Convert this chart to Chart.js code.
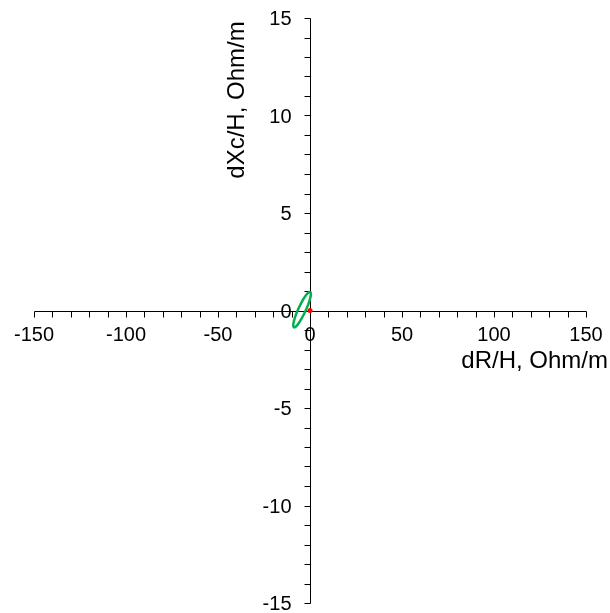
<!DOCTYPE html>
<html>
<head>
<meta charset="utf-8">
<title>dXc/H vs dR/H</title>
<script src="https://cdn.jsdelivr.net/npm/chart.js@4.4.1/dist/chart.umd.min.js"></script>
<style>
  html, body { margin: 0; padding: 0; background: #ffffff; }
  canvas { display: block; }
</style>
</head>
<body>
<canvas id="chart" width="610" height="613"></canvas>
<script>
// Hodograph loop: dR/H (x) against dXc/H (y), Ohm/m
const loopR = [0.0, 0.52, -0.25, -2.1, -4.55, -6.92, -8.6, -9.12, -8.36, -6.5, -4.06, -1.68, 0.0];
const loopX = [0.97, 0.85, 0.51, 0.05, -0.41, -0.75, -0.87, -0.75, -0.41, 0.05, 0.51, 0.85, 0.97];

// Reference point at the origin
const originR = [0];
const originX = [0];

// Axis ranges and tick steps
const xRange = [-150, 150];
const yRange = [-15, 15];
const xMinorStep = 10;
const xLabelStep = 50;
const yMinorStep = 1;
const yLabelStep = 5;

const xTitle = 'dR/H, Ohm/m';
const yTitle = 'dXc/H, Ohm/m';

const toPoints = (xs, ys) => xs.map((v, i) => ({ x: v, y: ys[i] }));

const FONT = '"Liberation Sans", Arial, Helvetica, sans-serif';
const TICK_LEN = 6;

const tickValues = (min, max, step) => {
  const out = [];
  for (let v = min; v <= max + 1e-9; v += step) out.push(Math.round(v * 1e6) / 1e6);
  return out;
};

// Axes crossing at the origin, ticks pointing outwards (down / left)
const crossAxes = {
  id: 'crossAxes',
  beforeDatasetsDraw(chart) {
    const { ctx } = chart;
    const xs = chart.scales.x;
    const ys = chart.scales.y;
    const crisp = p => Math.round(p) + 0.5;
    const ox = crisp(xs.getPixelForValue(0));
    const oy = crisp(ys.getPixelForValue(0));

    ctx.save();
    ctx.strokeStyle = '#000';
    ctx.lineWidth = 1;
    ctx.beginPath();
    ctx.moveTo(crisp(xs.getPixelForValue(xRange[0])), oy);
    ctx.lineTo(crisp(xs.getPixelForValue(xRange[1])), oy);
    ctx.moveTo(ox, crisp(ys.getPixelForValue(yRange[1])));
    ctx.lineTo(ox, crisp(ys.getPixelForValue(yRange[0])));

    tickValues(xRange[0], xRange[1], xMinorStep).forEach(v => {
      const px = crisp(xs.getPixelForValue(v));
      ctx.moveTo(px, oy);
      ctx.lineTo(px, oy + TICK_LEN);
    });
    tickValues(yRange[0], yRange[1], yMinorStep).forEach(v => {
      const py = crisp(ys.getPixelForValue(v));
      ctx.moveTo(ox, py);
      ctx.lineTo(ox - TICK_LEN, py);
    });
    ctx.stroke();

    ctx.fillStyle = '#000';
    ctx.font = '20px ' + FONT;
    ctx.textBaseline = 'alphabetic';
    ctx.textAlign = 'center';
    tickValues(xRange[0], xRange[1], xLabelStep).forEach(v => {
      ctx.fillText(String(v), xs.getPixelForValue(v), oy + 29);
    });
    ctx.textAlign = 'right';
    tickValues(yRange[0], yRange[1], yLabelStep).forEach(v => {
      ctx.fillText(String(v), ox - 19, ys.getPixelForValue(v) + 7);
    });
    ctx.restore();
  },
  afterDraw(chart) {
    const ctx = chart.ctx;
    ctx.save();
    ctx.fillStyle = '#000';
    ctx.font = '24px ' + FONT;
    ctx.textAlign = 'right';
    ctx.textBaseline = 'alphabetic';
    ctx.fillText(xTitle, 608, 368);
    ctx.translate(244, 100);
    ctx.rotate(-Math.PI / 2);
    ctx.textAlign = 'center';
    ctx.fillText(yTitle, 0, 0);
    ctx.restore();
  }
};

new Chart(document.getElementById('chart'), {
  type: 'scatter',
  data: {
    datasets: [
      {
        data: toPoints(loopR, loopX),
        showLine: true,
        borderColor: '#00B050',
        borderWidth: 2.5,
        pointRadius: 0,
        tension: 0.4,
        fill: false
      },
      {
        data: toPoints(originR, originX),
        showLine: false,
        pointRadius: 2.5,
        pointBackgroundColor: '#FF0000',
        pointBorderWidth: 0
      }
    ]
  },
  options: {
    responsive: false,
    animation: false,
    layout: { padding: { left: 34, right: 24, top: 18, bottom: 10 } },
    plugins: {
      legend: { display: false },
      tooltip: { enabled: false }
    },
    scales: {
      x: { type: 'linear', display: false, min: xRange[0], max: xRange[1] },
      y: { type: 'linear', display: false, min: yRange[0], max: yRange[1] }
    }
  },
  plugins: [crossAxes]
});
</script>
</body>
</html>
